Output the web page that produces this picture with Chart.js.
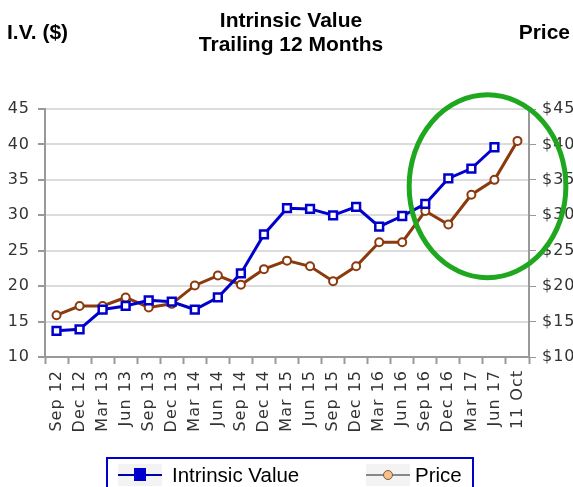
<!DOCTYPE html>
<html lang="en">
<head>
    <meta charset="UTF-8">
    <title>Intrinsic Value Trailing 12 Months</title>
    <script src="https://cdn.jsdelivr.net/npm/chart.js"></script>
    <style>
        body {
            margin: 0;
            padding: 0;
            background: #fff;
            font-family: "Liberation Sans", Arial, sans-serif;
        }
        .wrap {
            position: relative;
            width: 573px;
            height: 487px;
            overflow: hidden;
        }
        .wrap canvas { position: absolute; left: 0; top: 0; }
        .lbl {
            position: absolute;
            font-weight: bold;
            font-size: 21px;
            color: #000;
            line-height: 23.5px;
            white-space: nowrap;
        }
        .legend {
            position: absolute;
            left: 106px;
            top: 457px;
            width: 368px;
            height: 40px;
            border: 2px solid #0000cc;
            box-sizing: border-box;
        }
        .item {
            position: absolute;
            top: 4px;
            font-size: 20.5px;
            line-height: 24px;
            color: #000;
            white-space: nowrap;
        }
        .sym {
            position: absolute;
            top: 5px;
            width: 44px;
            height: 22px;
            background: #f3f3f3;
        }
        .sym .ln { position: absolute; left: 0; right: 0; top: 10px; height: 2px; }
        .sym .mk { position: absolute; }
    </style>
</head>
<body>
<div class="wrap">
    <canvas id="ivChart" width="573" height="487"></canvas>
    <div class="lbl" style="left:7px;top:20px;">I.V. ($)</div>
    <div class="lbl" style="left:0;width:582px;top:8px;text-align:center;">Intrinsic Value<br>Trailing 12 Months</div>
    <div class="lbl" style="right:3px;top:20px;">Price</div>
    <div class="legend" id="legend"></div>
</div>

<script>
    const quarters = ['Sep 12', 'Dec 12', 'Mar 13', 'Jun 13', 'Sep 13', 'Dec 13', 'Mar 14', 'Jun 14',
        'Sep 14', 'Dec 14', 'Mar 15', 'Jun 15', 'Sep 15', 'Dec 15', 'Mar 16', 'Jun 16',
        'Sep 16', 'Dec 16', 'Mar 17', 'Jun 17', '11 Oct'];

    const intrinsicValue = [13.7, 13.9, 16.7, 17.2, 18.0, 17.8, 16.7, 18.4, 21.8, 27.3, 31.0,
        30.9, 30.0, 31.2, 28.4, 29.9, 31.6, 35.2, 36.6, 39.6, null];

    const price = [15.9, 17.2, 17.2, 18.4, 17.0, 17.5, 20.1, 21.5, 20.2, 22.4, 23.6,
        22.8, 20.7, 22.8, 26.2, 26.2, 30.6, 28.7, 32.9, 35.0, 40.5];

    const yTicks = [10, 15, 20, 25, 30, 35, 40, 45];

    // green highlight ring, in category index / value units
    const ring = { cx: 18.7, cy: 34.1, halfCats: 3.4, halfVal: 12.9 };

    const blue = '#0000cc';
    const brown = '#8b3a0e';
    const tickFont = { family: '"DejaVu Sans", Verdana, sans-serif', size: 16 };

    // the original tick text is slightly spaced out
    const spacingPlugin = {
        id: 'spacing',
        beforeDraw(chart) { chart.ctx.letterSpacing = '1px'; }
    };

    const ringPlugin = {
        id: 'ring',
        afterDraw(chart) {
            const x = chart.scales.x, y = chart.scales.y;
            const cx = x.getPixelForValue(ring.cx);
            const cy = y.getPixelForValue(ring.cy);
            const rx = Math.abs(x.getPixelForValue(ring.cx + ring.halfCats) - cx);
            const ry = Math.abs(y.getPixelForValue(ring.cy + ring.halfVal) - cy);
            const ctx = chart.ctx;
            ctx.save();
            ctx.beginPath();
            ctx.ellipse(cx, cy, rx, ry, 0, 0, Math.PI * 2);
            ctx.strokeStyle = '#1fa81f';
            ctx.lineWidth = 5;
            ctx.stroke();
            ctx.restore();
        }
    };

    const ctx = document.getElementById('ivChart').getContext('2d');
    const chart = new Chart(ctx, {
        type: 'line',
        data: {
            labels: quarters,
            datasets: [{
                label: 'Intrinsic Value',
                data: intrinsicValue,
                yAxisID: 'y',
                borderColor: blue,
                borderWidth: 3,
                pointStyle: 'rect',
                pointRadius: 5.5,
                pointBackgroundColor: '#fff',
                pointBorderColor: blue,
                pointBorderWidth: 2.5,
                tension: 0
            }, {
                label: 'Price',
                data: price,
                yAxisID: 'y2',
                borderColor: brown,
                borderWidth: 3,
                pointStyle: 'circle',
                pointRadius: 4,
                pointBackgroundColor: '#fff',
                pointBorderColor: brown,
                pointBorderWidth: 2,
                tension: 0
            }]
        },
        options: {
            responsive: false,
            animation: false,
            layout: { padding: { top: 109, bottom: 30, left: 0, right: 0 } },
            plugins: {
                legend: { display: false },
                tooltip: { enabled: false }
            },
            scales: {
                x: {
                    offset: true,
                    grid: {
                        offset: true,
                        drawOnChartArea: false,
                        tickLength: 7,
                        tickColor: '#999',
                        tickWidth: 2
                    },
                    border: { color: '#999', width: 2 },
                    ticks: {
                        autoSkip: false,
                        maxRotation: 90,
                        minRotation: 90,
                        padding: 6,
                        color: '#333',
                        font: tickFont
                    },
                    afterFit(s) { s.height = 100; }
                },
                y: {
                    position: 'left',
                    min: 10,
                    max: 45,
                    afterBuildTicks(s) { s.ticks = yTicks.map(v => ({ value: v })); },
                    grid: {
                        color: '#dcdcdc',
                        lineWidth: 2,
                        tickLength: 7,
                        tickColor: '#999'
                    },
                    border: { color: '#999', width: 2 },
                    ticks: { padding: 8, color: '#333', font: tickFont },
                    afterFit(s) { s.width = 45; }
                },
                y2: {
                    position: 'right',
                    min: 10,
                    max: 45,
                    afterBuildTicks(s) { s.ticks = yTicks.map(v => ({ value: v })); },
                    grid: {
                        drawOnChartArea: false,
                        tickLength: 7,
                        tickColor: '#999'
                    },
                    border: { color: '#999', width: 2 },
                    ticks: {
                        padding: 6,
                        color: '#333',
                        font: tickFont,
                        callback: v => '$' + v
                    },
                    afterFit(s) { s.width = 44; }
                }
            }
        },
        plugins: [spacingPlugin, ringPlugin]
    });

    // legend built from the datasets
    const legend = document.getElementById('legend');
    const spots = [{ sym: 10, text: 64 }, { sym: 258, text: 307 }];
    chart.data.datasets.forEach((ds, i) => {
        const sym = document.createElement('div');
        sym.className = 'sym';
        sym.style.left = spots[i].sym + 'px';
        const ln = document.createElement('div');
        ln.className = 'ln';
        ln.style.background = i === 0 ? '#0000aa' : '#888';
        const mk = document.createElement('div');
        mk.className = 'mk';
        if (i === 0) {
            Object.assign(mk.style, { left: '16px', top: '4px', width: '12px', height: '13px', background: '#0000cc' });
        } else {
            Object.assign(mk.style, { left: '17px', top: '6px', width: '8px', height: '8px', background: '#f5c08a',
                border: '1px solid #7a5a3a', borderRadius: '50%' });
        }
        sym.appendChild(ln);
        sym.appendChild(mk);
        legend.appendChild(sym);
        const t = document.createElement('div');
        t.className = 'item';
        t.style.left = spots[i].text + 'px';
        t.textContent = ds.label;
        legend.appendChild(t);
    });
</script>
</body>
</html>
